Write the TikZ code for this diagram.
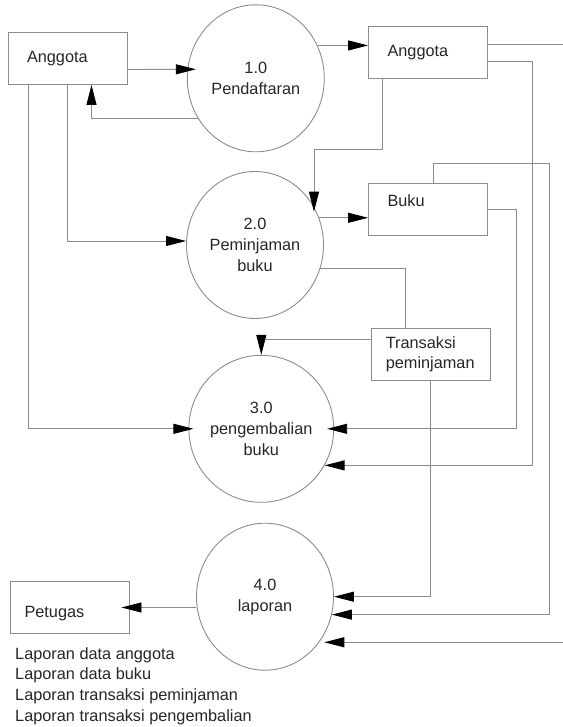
\documentclass[tikz,border=0pt]{standalone}
\usepackage{fontspec}
\setmainfont{Liberation Sans}
\usetikzlibrary{shapes.geometric,arrows.meta}

\begin{document}
\begin{tikzpicture}[x=1pt,y=-1pt,
	font=\fontsize{16.3}{20.7}\selectfont,
	proc/.style={ellipse,draw=black!45,line width=0.9pt,text=black!85,
		minimum width=137pt,minimum height=147pt,inner sep=0pt,align=center},
	store/.style={rectangle,draw=black!45,line width=0.9pt,text=black!85,
		minimum width=119pt,minimum height=52pt,inner xsep=19pt,text width=81pt,align=left},
	line/.style={draw,color=black!45,line width=0.9pt},
	flow/.style={line,-{Triangle[length=20pt,width=10pt,color=black]}}]
	\useasboundingbox (0,0) rectangle (562,727);

	\node [store] (agt1) at (67.5,58.5)	{Anggota};
	\node [store] (agt2) at (428,52.2)	{Anggota};
	\node [store,text depth=17pt] (buku) at (428,209.2)	{Buku};
	\node [store,inner xsep=14.5pt,text width=90pt] (trans) at (430.8,354.2)	{Transaksi\\peminjaman};
	\node [store,inner xsep=14.5pt,text width=90pt,text height=23pt] (petugas) at (69.5,607.5)	{Petugas};

	\node [proc] (p1) at (255.8,78.3)	{1.0\\Pendaftaran};
	\node [proc] (p2) at (255,245)		{2.0\\Peminjaman\\buku};
	\node [proc] (p3) at (261.3,428.8)	{3.0\\pengembalian\\buku};
	\node [proc] (p4) at (265,596.7)	{4.0\\laporan};

	\node [anchor=north west,align=left,inner sep=0pt,text=black!85] (lap) at (15,647)
		{Laporan data anggota\\Laporan data buku\\Laporan transaksi peminjaman\\Laporan transaksi pengembalian};

	\draw [flow,shorten >=-9pt] ([yshift=-11pt]agt1.east) -- ([yshift=9pt]p1.west);
	\draw [flow] (p1.215) -| ([xshift=24pt]agt1.south);
	\draw [flow] (p1.28) -- (p1.28 -| agt2.west);
	\draw [flow,shorten >=-5pt] ([xshift=-45.5pt]agt2.south) -- ++(0,71.3) -| (p2.33);
	\draw [flow] (agt1.south) |- ([yshift=4pt]p2.west);
	\draw [flow,shorten >=-5pt] ([xshift=-39pt]agt1.south) |- (p3.west);
	\draw [flow] (p2.23) -- (p2.23 -| buku.west);
	\draw [line] (p2.-20) -| ([xshift=-25.5pt]trans.north);
	\draw [flow] ([yshift=15pt]trans.west) -| (p3.north);
	\draw [flow,shorten >=-7pt] (buku.east) -- ++(28.7,0) |- (p3.east);
	\draw [flow] ([yshift=-9.5pt]agt2.east) -- ++(44.7,0) |- (p3.-30);
	\draw [flow] ([xshift=5pt]buku.north) -- ++(0,-19) -- ++(116.7,0) |- (p4.-15);
	\draw [flow] (trans.south) |- (p4.east);
	\draw [flow,shorten >=5pt] ([yshift=8pt]agt2.east) -- ++(80,0) |- (p4.-40);
	\draw [flow,shorten >=-8pt] (p4.west |- petugas.east) -- (petugas.east);
\end{tikzpicture}
\end{document}
